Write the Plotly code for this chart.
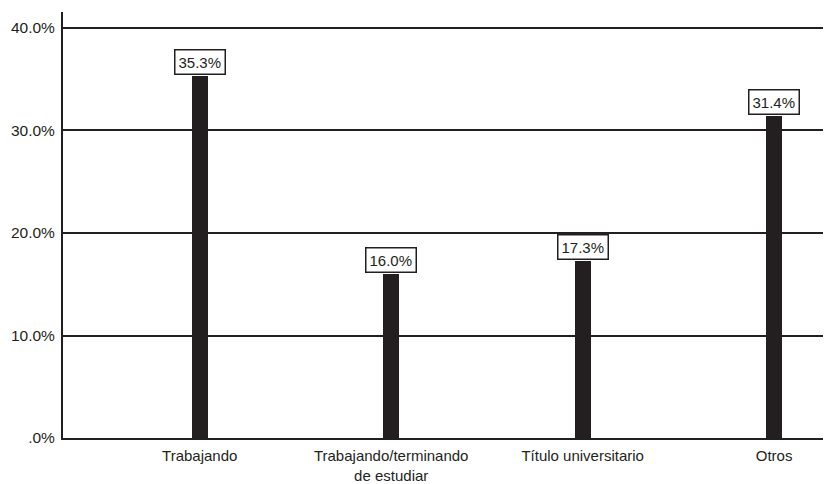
import plotly.graph_objects as go

categories = ["Trabajando", "Trabajando/terminando<br>de estudiar", "Título universitario", "Otros"]
values = [35.3, 16.0, 17.3, 31.4]
value_labels = ["35.3%", "16.0%", "17.3%", "31.4%"]
y_tickvals = [0, 10, 20, 30, 40]
y_ticktext = [".0%", "10.0%", "20.0%", "30.0%", "40.0%"]

FONT = "Liberation Sans Narrow, Arial Narrow, Liberation Sans, sans-serif"

fig = go.Figure()
fig.add_trace(go.Bar(
    x=list(range(len(categories))), y=values,
    width=0.084,
    marker=dict(color="#231f20", line=dict(width=0)),
    showlegend=False, hoverinfo="skip",
))

for i, (v, t) in enumerate(zip(values, value_labels)):
    fig.add_annotation(
        x=i, y=v, text=t, showarrow=False, yanchor="bottom", yshift=1,
        font=dict(family=FONT, size=15, color="#231f20"),
        bgcolor="white", bordercolor="#231f20", borderwidth=1.5, borderpad=3,
    )

fig.update_layout(
    width=831, height=484,
    margin=dict(l=55, r=8, t=4, b=54),
    paper_bgcolor="white", plot_bgcolor="white",
    bargap=0,
    xaxis=dict(
        range=[-0.714, 3.297],
        tickvals=list(range(len(categories))), ticktext=categories,
        showgrid=False, zeroline=False, automargin=False,
        showline=True, linecolor="#231f20", linewidth=2,
        ticks="outside", ticklen=3, tickcolor="rgba(0,0,0,0)",
        tickfont=dict(family=FONT, size=15, color="#231f20"),
        fixedrange=True,
    ),
    yaxis=dict(
        range=[0, 41.56],
        tickvals=y_tickvals, ticktext=y_ticktext,
        showgrid=True, gridcolor="#231f20", gridwidth=1.5,
        zeroline=False, automargin=False,
        showline=True, linecolor="#231f20", linewidth=2,
        ticks="", ticklabelstandoff=3,
        tickfont=dict(family=FONT, size=15.5, color="#231f20"),
        fixedrange=True,
    ),
)

fig.write_html("out.html")
